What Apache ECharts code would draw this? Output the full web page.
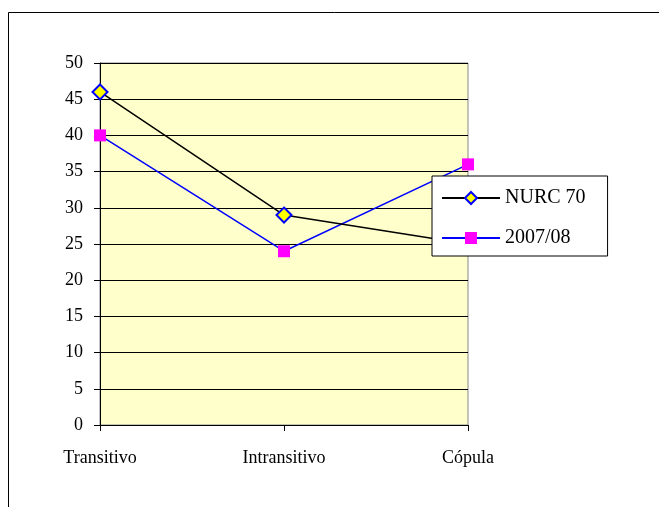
<!DOCTYPE html>
<html>
<head>
<meta charset="utf-8">
<script src="https://cdn.jsdelivr.net/npm/echarts@6/dist/echarts.min.js"></script>
<style>
  html, body { margin: 0; padding: 0; background: #fff; }
  #chart { width: 659px; height: 507px; }
</style>
</head>
<body>
<div id="chart"></div>
<script>
// categorias del eje x
var categories = ['Transitivo', 'Intransitivo', 'Cópula'];
// series
var nurc70 = [46, 29, 25];
var serie2007 = [40, 24, 36];
var seriesNames = ['NURC 70', '2007/08'];

var myChart = echarts.init(document.getElementById('chart'));
var serif = '"Liberation Serif", "DejaVu Serif", serif';

var option = {
    animation: false,
    backgroundColor: '#fff',
    graphic: [
        {
            // marco exterior del gráfico
            type: 'rect',
            shape: { x: 8.5, y: 12.5, width: 700, height: 600 },
            style: { fill: 'none', stroke: '#000', lineWidth: 1 },
            silent: true,
            z: -10
        }
    ],
    grid: {
        left: 100,
        top: 63,
        right: 191,
        bottom: 82,
        show: true,
        backgroundColor: '#FFFFCC',
        borderColor: '#888',
        borderWidth: 1
    },
    legend: {
        left: 432,
        top: 176,
        orient: 'vertical',
        padding: [12, 22, 8, 9],
        itemGap: 20,
        itemWidth: 58,
        itemHeight: 15,
        backgroundColor: '#fff',
        borderColor: '#000',
        borderWidth: 1,
        textStyle: { fontFamily: serif, fontSize: 20, color: '#000' },
        data: seriesNames
    },
    xAxis: {
        type: 'category',
        data: categories,
        boundaryGap: false,
        axisLine: { lineStyle: { color: '#000', width: 1 } },
        axisTick: { show: true, length: 6, lineStyle: { color: '#000' } },
        axisLabel: { fontFamily: serif, fontSize: 18, color: '#000', margin: 24 },
        splitLine: { show: false }
    },
    yAxis: {
        type: 'value',
        min: 0,
        max: 50,
        interval: 5,
        axisLine: { show: true, lineStyle: { color: '#000', width: 1 } },
        axisTick: { show: true, length: 6, lineStyle: { color: '#000' } },
        axisLabel: { fontFamily: serif, fontSize: 18, color: '#000', margin: 17 },
        splitLine: { show: true, lineStyle: { color: '#000', width: 1 } }
    },
    series: [
        {
            name: seriesNames[0],
            type: 'line',
            data: nurc70,
            symbol: 'diamond',
            symbolSize: 15,
            showAllSymbol: true,
            lineStyle: { color: '#000', width: 1.5 },
            itemStyle: { color: '#FFFF00', borderColor: '#0000FF', borderWidth: 2 },
            z: 3
        },
        {
            name: seriesNames[1],
            type: 'line',
            data: serie2007,
            symbol: 'rect',
            symbolSize: 12,
            showAllSymbol: true,
            lineStyle: { color: '#0000FF', width: 1.5 },
            itemStyle: { color: '#FF00FF', borderWidth: 0 },
            z: 2
        }
    ]
};
myChart.setOption(option);
</script>
</body>
</html>
